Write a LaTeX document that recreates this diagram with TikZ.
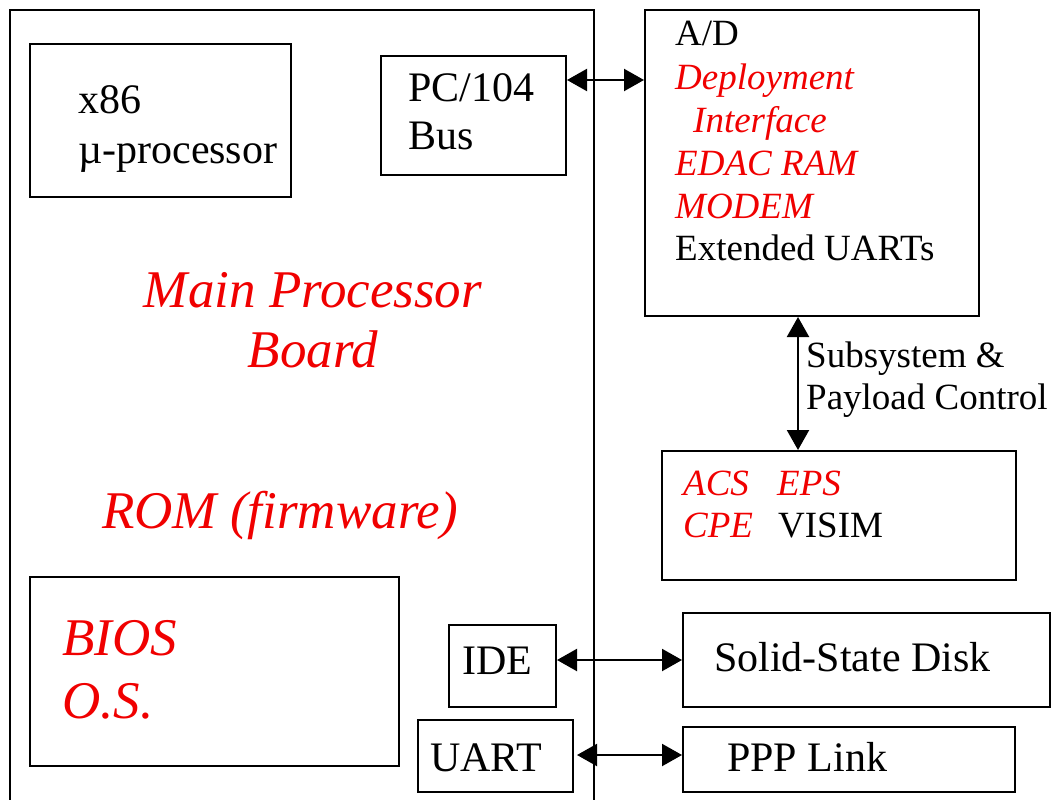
\documentclass[tikz,border=0pt]{standalone}
\usepackage{fontspec}
\setmainfont{Liberation Serif}
\usetikzlibrary{arrows.meta}
\definecolor{lblred}{RGB}{240,0,0}
\tikzset{
  box/.style={draw, line width=2pt, inner sep=0pt},
  conn/.style={line width=2.2pt, {Triangle[length=20pt,width=22pt]}-{Triangle[length=20pt,width=22pt]}},
  txt/.style={anchor=base west, inner sep=0pt, font=\fontsize{37}{40}\selectfont},
  mid/.style={anchor=base west, inner sep=0pt, font=\fontsize{42}{46}\selectfont},
  big/.style={anchor=base, inner sep=0pt, font=\fontsize{53}{58}\selectfont\itshape, text=lblred},
  red/.style={text=lblred, font=\fontsize{37}{40}\selectfont\itshape},
}
\begin{document}
\begin{tikzpicture}[x=1pt,y=-1pt]
\useasboundingbox (0,0) rectangle (1055,800);
% main processor board (open at the bottom)
\draw[line width=2pt] (10,805) -- (10,10) -- (594,10) -- (594,805);
% boxes
\node[box, minimum width=261pt, minimum height=153pt] (x86) at (160.5,120.5) {};
\node[box, minimum width=185pt, minimum height=119pt] (pc) at (473.5,115.5) {};
\node[box, minimum width=334pt, minimum height=306pt] (ad) at (812,163) {};
\node[box, minimum width=369pt, minimum height=189pt] (bios) at (214.5,671.5) {};
\node[box, minimum width=107pt, minimum height=82pt] (ide) at (502.5,666) {};
\node[box, minimum width=155pt, minimum height=72pt] (uart) at (495.5,756) {};
\node[box, minimum width=367pt, minimum height=94pt] (ssd) at (866.5,660) {};
\node[box, minimum width=332pt, minimum height=65pt] (ppp) at (849,759.5) {};
\node[box, minimum width=354pt, minimum height=129pt] (acs) at (839,515.5) {};
% texts
\node[mid] (t1) at (78,113) {x86};
\node[mid] (t2) at (78,163) {µ-processor};
\node[mid] (t3) at (408,101) {PC/104};
\node[mid] (t4) at (408,149) {Bus};
\node[txt] (t5) at (675,46) {A/D};
\node[txt,red] (t6) at (675,89) {Deployment};
\node[txt,red] (t7) at (693,132) {Interface};
\node[txt,red] (t8) at (675,175) {EDAC RAM};
\node[txt,red] (t9) at (675,218) {MODEM};
\node[txt] (t10) at (675,260) {Extended UARTs};
\node[big] (t11) at (313,307) {Main Processor};
\node[big] (t12) at (313,367) {Board};
\node[big] (t13) at (280,528) {ROM (firmware)};
\node[big, anchor=base west] (t14) at (62,655) {BIOS};
\node[big, anchor=base west] (t15) at (62,718) {O.S.};
\node[mid] (t16) at (462,674) {IDE};
\node[mid] (t17) at (430,771) {UART};
\node[mid] (t18) at (714,671) {Solid-State Disk};
\node[mid] (t19) at (727,771) {PPP Link};
\node[txt] (t20) at (806,367) {Subsystem \&};
\node[txt] (t21) at (806,409) {Payload Control};
\node[txt,red] (t22) at (683,495) {ACS};
\node[txt,red] (t23) at (777,495) {EPS};
\node[txt,red] (t24) at (683,537) {CPE};
\node[txt] (t25) at (778,537) {VISIM};
% connectors
\coordinate (uartend) at (577,755);
\draw[conn] (pc.east |- 0,80) -- (ad.west |- 0,80);
\draw[conn] (ad.south -| 798,0) -- (acs.north -| 798,0);
\draw[conn] (ide.east |- 0,660) -- (ssd.west |- 0,660);
\draw[conn] (uartend) -- (ppp.west |- uartend);
\end{tikzpicture}
\end{document}
